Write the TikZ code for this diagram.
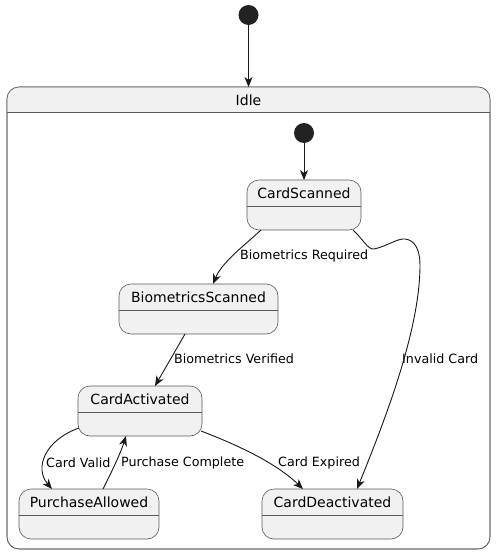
\documentclass[tikz,border=0pt]{standalone}
\usepackage{fontspec}
\setmainfont{DejaVu Sans}
\usetikzlibrary{arrows.meta,calc}
\definecolor{stfill}{HTML}{F1F1F1}
\definecolor{stborder}{HTML}{5A5A5A}
\definecolor{arrc}{HTML}{181818}
\definecolor{initc}{HTML}{222222}
\tikzset{
  stbox/.style={draw=stborder, line width=0.6pt, fill=stfill, rounded corners=12pt, minimum height=50pt, inner sep=0pt, outer sep=0pt},
  sttext/.style={font=\fontsize{14}{16}\selectfont, inner sep=0pt},
  stline/.style={draw=stborder, line width=0.6pt},
  lbl/.style={font=\fontsize{12.7}{15}\selectfont, inner sep=0pt, anchor=west},
  initnode/.style={circle, fill=initc, minimum size=20pt, inner sep=0pt, outer sep=0pt},
  edge/.style={draw=arrc, line width=0.9pt, -{Stealth[length=10pt,width=8pt,inset=3pt]}}
}
\newcommand{\mkstate}[5]{%
  \node[stbox, minimum width=#4pt] (#1) at (#2,#3+25) {};
  \node[sttext] (#1-t) at (#2,#3+13) {#5};
  \draw[stline] ([yshift=-1pt]#1.west) -- ([yshift=-1pt]#1.east);
}
\begin{document}
\begin{tikzpicture}[x=1pt,y=-1pt]
\useasboundingbox (0,0) rectangle (496,554);
% composite state Idle
\node[draw=stborder, line width=0.6pt, fill=white, rounded corners=12pt, minimum width=483pt, minimum height=462pt, inner sep=0pt, outer sep=0pt] (idle) at (248.5,318) {};
\begin{scope}
  \clip (7,87) rectangle (490,112);
  \fill[stfill, rounded corners=12pt] (idle.north west) rectangle (idle.south east);
\end{scope}
\draw[stborder, line width=0.6pt, rounded corners=12pt] (idle.north west) rectangle (idle.south east);
\draw[stline] (7,112) -- (490,112);
\node[sttext] (idle-t) at (248.5,100) {Idle};

% initial states
\node[initnode] (i1) at (248.5,15) {};
\node[initnode] (i2) at (304,133) {};

% states
\mkstate{cs}{304}{180}{114}{CardScanned}
\mkstate{bs}{198.5}{284}{159}{BiometricsScanned}
\mkstate{ca}{140}{386}{124}{CardActivated}
\mkstate{pa}{89}{489}{140}{PurchaseAllowed}
\mkstate{cd}{332.5}{489}{141}{CardDeactivated}

% edges
\draw[edge] (i1) -- (idle.north);
\draw[edge] (i2) -- (cs.north);
\draw[edge] ($(cs.south west)+(14,0)$) .. controls (245,245) and (222,262) .. ($(bs.north west)+(94,0)$);
\draw[edge] ($(bs.south west)+(66,0)$) -- ($(ca.north west)+(77,0)$);
\draw[edge] ($(cs.south east)+(-8,0)$) .. controls (362,238) and (368,250) .. (374,249)
   .. controls (385,247) and (398,238) .. (405,239)
   .. controls (415,240) and (420,250) .. (420,265)
   .. controls (420,330) and (385,420) .. ($(cd.north west)+(95,0)$);
\draw[edge] ($(ca.south west)+(1,-8)$) .. controls (45,440) and (34,468) .. ($(pa.north west)+(33,0)$);
\draw[edge] ($(pa.north west)+(84,0)$) .. controls (110,475) and (120,455) .. ($(ca.south west)+(48,0)$);
\draw[edge] ($(ca.south east)+(-1,-5)$) .. controls (235,444) and (275,462) .. ($(cd.north west)+(41,0)$);

% labels
\node[lbl] (l1) at (240,256) {Biometrics Required};
\node[lbl] (l2) at (174,359) {Biometrics Verified};
\node[lbl] (l3) at (402,359) {Invalid Card};
\node[lbl] (l4) at (46,463) {Card Valid};
\node[lbl] (l5) at (121,463) {Purchase Complete};
\node[lbl] (l6) at (278,463) {Card Expired};
\end{tikzpicture}
\end{document}
